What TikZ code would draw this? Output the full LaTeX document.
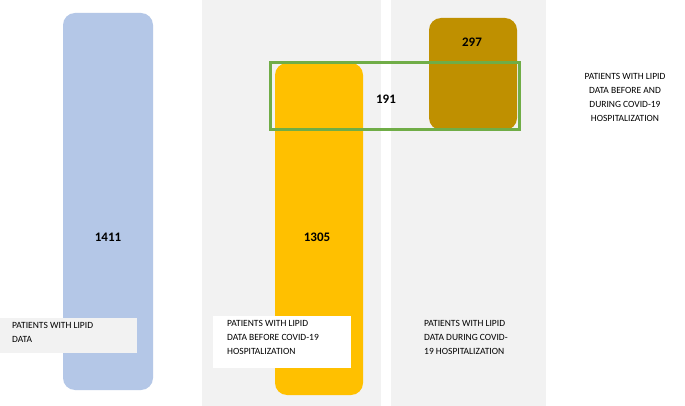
\documentclass[tikz,border=0pt]{standalone}
\usepackage{fontspec}
\setmainfont{Carlito}
\begin{document}
\begin{tikzpicture}[x=1pt,y=-1pt,
  lbl/.style={font=\fontsize{9.5}{14}\selectfont, align=left, anchor=north west, inner sep=0pt},
  num/.style={font=\bfseries\fontsize{13}{15}\selectfont}]
\definecolor{pgray}{HTML}{F2F2F2}
\definecolor{pblue}{HTML}{B4C7E7}
\definecolor{pyel}{HTML}{FFC000}
\definecolor{pgold}{HTML}{BF9000}
\definecolor{pgreen}{HTML}{70AD47}
\useasboundingbox (0,0) rectangle (685,406);
\fill[white] (0,0) rectangle (685,406);
\fill[pgray] (202,0) rectangle (381,406);
\fill[pgray] (391,0) rectangle (546,406);
\fill[pblue, rounded corners=12pt] (63,13) rectangle (153,390);
\fill[pyel, rounded corners=12pt] (275,63) rectangle (363,395);
\fill[pgold, rounded corners=12pt] (429,18) rectangle (517,130);
\node[draw=pgreen, line width=2.5pt, minimum width=249pt, minimum height=67pt, inner sep=0pt] (g) at (395,96) {};
\node[num] (n1) at (108,237) {1411};
\node[num] (n2) at (317,237) {1305};
\node[num] (n3) at (472,42) {297};
\node[num] (n4) at (386,99) {191};
\fill[pgray] (0,318) rectangle (137,353);
\node[lbl] (l1) at (12,322) {PATIENTS WITH LIPID\\DATA};
\fill[white] (213,316) rectangle (351,368);
\node[lbl] (l2) at (227,320) {PATIENTS WITH LIPID\\DATA BEFORE COVID-19\\HOSPITALIZATION};
\node[lbl] (l3) at (424,320) {PATIENTS WITH LIPID\\DATA DURING COVID-\\19 HOSPITALIZATION};
\node[font=\fontsize{9.5}{14}\selectfont, align=center, inner sep=0pt] (l4) at (625,97) {PATIENTS WITH LIPID\\DATA BEFORE AND\\DURING COVID-19\\HOSPITALIZATION};
\end{tikzpicture}
\end{document}
